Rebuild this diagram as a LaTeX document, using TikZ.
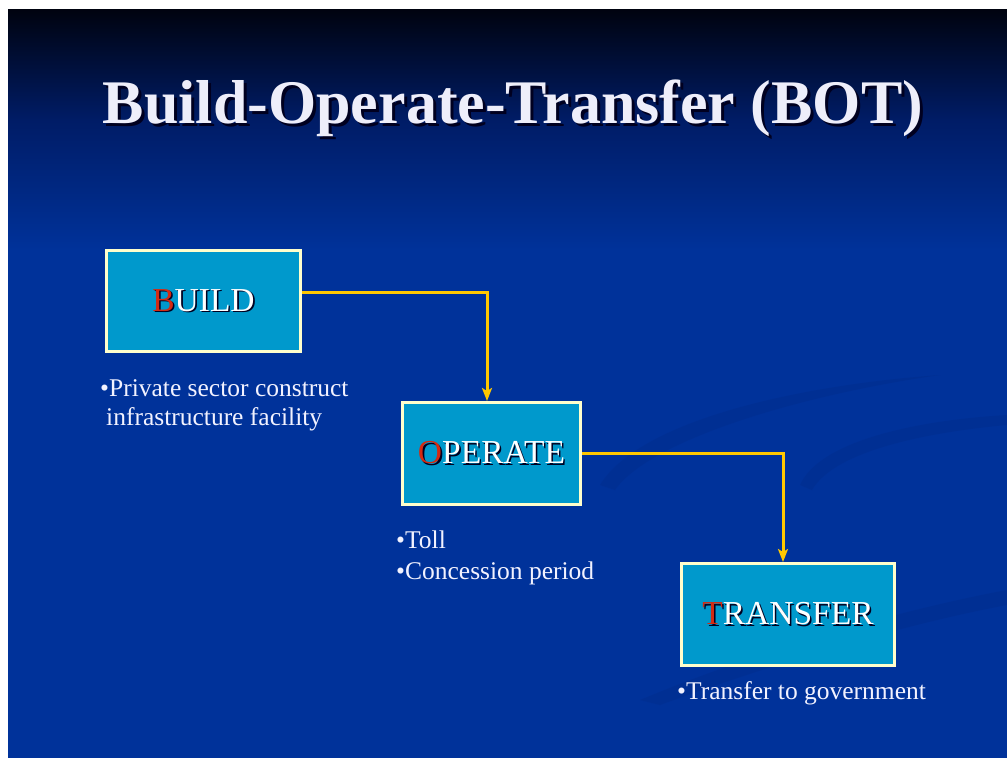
\documentclass[tikz,border=0pt]{standalone}
\usepackage{fontspec}
\setmainfont{Liberation Serif}
\usetikzlibrary{arrows.meta}

\definecolor{slidetop}{HTML}{00030F}
\definecolor{slidemid}{HTML}{001C66}
\definecolor{slideblue}{HTML}{00329A}
\definecolor{swoosh}{HTML}{002A85}
\definecolor{titletext}{HTML}{EEEEFA}
\definecolor{titleshadow}{HTML}{000020}
\definecolor{stagefill}{HTML}{0099CC}
\definecolor{stageframe}{HTML}{FFFFCC}
\definecolor{initial}{HTML}{D42A12}
\definecolor{flowline}{HTML}{FFC800}
\definecolor{notetext}{HTML}{F2F2FF}

% text with a drop shadow: #1 offset, #2 shadowed copy, #3 visible text
\newcommand\withshadow[3]{\leavevmode\rlap{\kern#1\raisebox{-#1}{\color{titleshadow}#2}}#3}
\newcommand\stagename[2]{\withshadow{1.6pt}{#1#2}{{\color{initial}#1}#2}}

\tikzset{
  stagebox/.style={draw=stageframe, line width=3pt, fill=stagefill,
    text=white, font=\fontsize{33.5}{38}\selectfont, inner sep=0pt},
  flow/.style={draw=flowline, line width=3pt,
    -{Stealth[length=13pt, width=10pt, inset=3pt]}},
  note/.style={anchor=base west, inner sep=0pt, text=notetext,
    font=\fontsize{25.5}{30}\selectfont},
}

\begin{document}
\begin{tikzpicture}[x=1pt, y=-1pt]
\useasboundingbox (0,0) rectangle (1007,758);
\fill[white] (0,0) rectangle (1007,758);

% slide background: dark top fading to blue
\shade[top color=slidetop, bottom color=slidemid] (8,9) rectangle (1007,120);
\shade[top color=slidemid, bottom color=slideblue] (8,119.5) rectangle (1007,250);
\fill[slideblue] (8,249.5) rectangle (1007,758);

% faint swooshes in the background
\begin{scope}[opacity=0.3]
\fill[swoosh] (600,485) .. controls (640,420) and (800,385) .. (940,375)
  .. controls (800,395) and (650,440) .. (615,490) -- cycle;
\fill[swoosh] (800,485) .. controls (820,440) and (920,420) .. (1007,415)
  -- (1007,425) .. controls (930,432) and (835,450) .. (812,490) -- cycle;
\fill[swoosh] (640,700) .. controls (760,650) and (900,610) .. (1007,590)
  -- (1007,605) .. controls (900,625) and (770,665) .. (660,705) -- cycle;
\end{scope}

% title
\node[anchor=base, inner sep=0pt, text=titletext,
  font=\fontsize{62}{68}\selectfont\bfseries] (title) at (513,123)
  {\withshadow{3pt}{Build-Operate-Transfer (BOT)}{Build-Operate-Transfer (BOT)}};

% stages
\node[stagebox, minimum width=194pt, minimum height=101pt] (build) at (203.5,301)
  {\stagename{B}{UILD}};
\node[stagebox, minimum width=178pt, minimum height=102pt] (operate) at (491.5,453.5)
  {\stagename{O}{PERATE}};
\node[stagebox, minimum width=213pt, minimum height=102pt] (transfer) at (788,614.5)
  {\stagename{T}{RANSFER}};

% connectors
\draw[flow] ([yshift=9pt]build.east) -| ([xshift=-4.5pt]operate.north);
\draw[flow] (operate.east) -| ([xshift=-5pt]transfer.north);

% notes under each stage
\node[note] (buildnote1) at (100,396) {•Private sector construct};
\node[note] (buildnote2) at (106,425) {infrastructure facility};
\node[note] (operatenote1) at (396,548) {•Toll};
\node[note] (operatenote2) at (396,579) {•Concession period};
\node[note] (transfernote) at (677,699) {•Transfer to government};
\end{tikzpicture}
\end{document}
